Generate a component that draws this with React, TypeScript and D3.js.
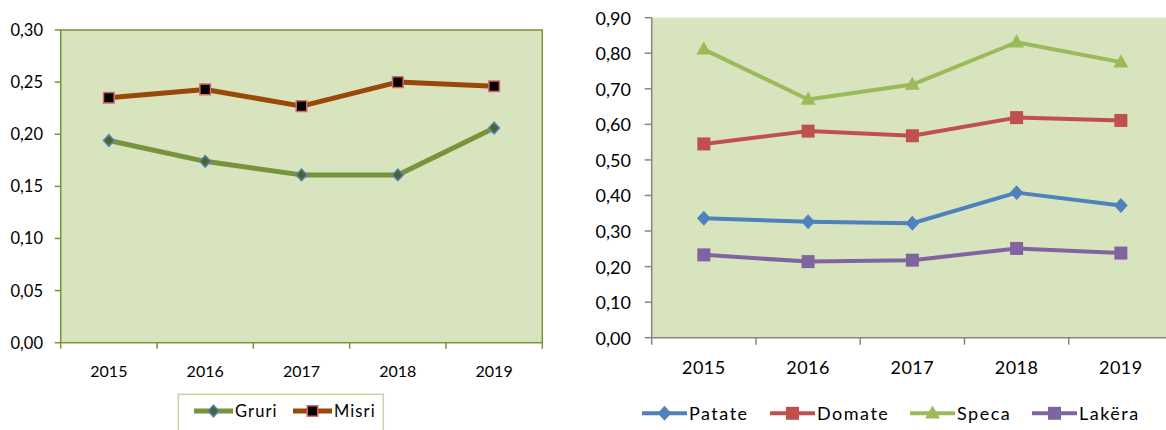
import React from "react";
import * as d3 from "d3";

const years = ["2015", "2016", "2017", "2018", "2019"];

// Left chart
const gruri = [0.194, 0.174, 0.161, 0.161, 0.206];
const misri = [0.235, 0.243, 0.227, 0.25, 0.246];
const leftTicks = [0, 0.05, 0.1, 0.15, 0.2, 0.25, 0.3];

// Right chart
const patate = [0.336, 0.326, 0.322, 0.408, 0.372];
const domate = [0.545, 0.581, 0.568, 0.619, 0.611];
const speca = [0.811, 0.67, 0.712, 0.831, 0.775];
const lakera = [0.233, 0.214, 0.218, 0.251, 0.238];
const rightTicks = [0, 0.1, 0.2, 0.3, 0.4, 0.5, 0.6, 0.7, 0.8, 0.9];

const FONT = "Lato, 'Open Sans', sans-serif";
const fmt = (v: number) => v.toFixed(2).replace(".", ",");

type Marker = "diamond" | "square" | "triangle";

function markerPath(kind: Marker, cx: number, cy: number, r: number): string {
  const p = d3.path();
  if (kind === "diamond") {
    p.moveTo(cx, cy - r * 1.1);
    p.lineTo(cx + r, cy);
    p.lineTo(cx, cy + r * 1.1);
    p.lineTo(cx - r, cy);
    p.closePath();
  } else if (kind === "square") {
    p.rect(cx - r, cy - r, 2 * r, 2 * r);
  } else {
    const h = r * 1.75;
    p.moveTo(cx, cy - h * 0.6);
    p.lineTo(cx + r, cy + h * 0.4);
    p.lineTo(cx - r, cy + h * 0.4);
    p.closePath();
  }
  return p.toString();
}

export default function App() {
  // Left scales
  const xL = d3.scaleBand().domain(years).range([60.7, 542.3]);
  const yL = d3.scaleLinear().domain([0, 0.3]).range([342.7, 30]);
  // Right scales
  const xR = d3.scaleBand().domain(years).range([651.7, 1173]);
  const yR = d3.scaleLinear().domain([0, 0.9]).range([337.7, 17.7]);

  const lineL = d3
    .line<number>()
    .x((_, i) => (xL(years[i]) as number) + xL.bandwidth() / 2)
    .y((d) => yL(d));
  const lineR = d3
    .line<number>()
    .x((_, i) => (xR(years[i]) as number) + xR.bandwidth() / 2)
    .y((d) => yR(d));

  const leftSeries = [
    { name: "Gruri", data: gruri, color: "#77933C", width: 5, marker: "diamond" as Marker, r: 5.3, fill: "#4F6228", stroke: "#4F81BD", sw: 1.5 },
    { name: "Misri", data: misri, color: "#984807", width: 5, marker: "square" as Marker, r: 5.3, fill: "#000000", stroke: "#D9696A", sw: 1.5 },
  ];
  const rightSeries = [
    { name: "Patate", data: patate, color: "#4F81BD", marker: "diamond" as Marker, r: 6.8 },
    { name: "Domate", data: domate, color: "#C0504D", marker: "square" as Marker, r: 6.5 },
    { name: "Speca", data: speca, color: "#9BBB59", marker: "triangle" as Marker, r: 7.5 },
    { name: "Lakëra", data: lakera, color: "#8064A2", marker: "square" as Marker, r: 6.5 },
  ];

  const leftAxisColor = "#77933C";
  const rightAxisColor = "#868686";
  const plotFill = "#D7E4BD";

  const [l0, l1] = xL.range();
  const [r0, r1] = xR.range();
  const leftBounds = [...years.map((y) => xL(y) as number), l1];
  const rightBounds = [...years.map((y) => xR(y) as number), r1];

  const rightLegendX = [642, 770, 910, 1032];
  const leftLegendX = [194, 293];

  return (
    <svg
      width={1166}
      height={430}
      style={{ position: "absolute", left: 0, top: 0, fontFamily: FONT }}
    >
      <rect x={0} y={0} width={1166} height={430} fill="#ffffff" />

      {/* LEFT CHART */}
      <rect x={l0} y={yL(0.3)} width={l1 - l0} height={yL(0) - yL(0.3)} fill={plotFill} stroke={leftAxisColor} strokeWidth={1.5} />
      {leftTicks.map((t) => (
        <g key={"lt" + t}>
          <line x1={l0 - 6} x2={l0} y1={yL(t)} y2={yL(t)} stroke={leftAxisColor} strokeWidth={1.5} />
          <text x={43} y={yL(t)} textAnchor="end" dominantBaseline="central" fontSize={16.5} fill="#000">
            {fmt(t)}
          </text>
        </g>
      ))}
      {leftBounds.map((b, i) => (
        <line key={"lb" + i} x1={b} x2={b} y1={yL(0)} y2={yL(0) + 6} stroke={leftAxisColor} strokeWidth={1.5} />
      ))}
      {years.map((y) => (
        <text key={"lx" + y} x={(xL(y) as number) + xL.bandwidth() / 2} y={370.7} textAnchor="middle" dominantBaseline="central" fontSize={16} fill="#000">
          {y}
        </text>
      ))}
      {leftSeries.map((s) => (
        <g key={s.name}>
          <path d={lineL(s.data) as string} fill="none" stroke={s.color} strokeWidth={s.width} strokeLinejoin="round" />
          {s.data.map((v, i) => (
            <path
              key={i}
              d={markerPath(s.marker, (xL(years[i]) as number) + xL.bandwidth() / 2, yL(v), s.r)}
              fill={s.fill}
              stroke={s.stroke}
              strokeWidth={s.sw}
            />
          ))}
        </g>
      ))}
      {/* left legend */}
      <rect x={178.3} y={394.3} width={205} height={40} fill="#ffffff" stroke="#C3D69B" strokeWidth={1.5} />
      {leftSeries.map((s, i) => {
        const x = leftLegendX[i];
        const cy = 411;
        return (
          <g key={"ll" + s.name}>
            <line x1={x} x2={x + 39} y1={cy} y2={cy} stroke={s.color} strokeWidth={s.width} />
            <path d={markerPath(s.marker, x + 19.5, cy, s.r)} fill={s.fill} stroke={s.stroke} strokeWidth={s.sw} />
            <text x={x + 41} y={cy} dominantBaseline="central" fontSize={16.5} letterSpacing={1.1} fill="#000">
              {s.name}
            </text>
          </g>
        );
      })}

      {/* RIGHT CHART */}
      <rect x={r0} y={yR(0.9)} width={r1 - r0} height={yR(0) - yR(0.9)} fill={plotFill} />
      <line x1={r0} x2={r0} y1={yR(0.9)} y2={yR(0)} stroke={rightAxisColor} strokeWidth={1.5} />
      <line x1={r0} x2={r1} y1={yR(0)} y2={yR(0)} stroke={rightAxisColor} strokeWidth={1.5} />
      {rightTicks.map((t) => (
        <g key={"rt" + t}>
          <line x1={r0 - 7} x2={r0} y1={yR(t)} y2={yR(t)} stroke={rightAxisColor} strokeWidth={1.5} />
          <text x={631} y={yR(t)} textAnchor="end" dominantBaseline="central" fontSize={18} fill="#000">
            {fmt(t)}
          </text>
        </g>
      ))}
      {rightBounds.map((b, i) => (
        <line key={"rb" + i} x1={b} x2={b} y1={yR(0)} y2={yR(0) + 7} stroke={rightAxisColor} strokeWidth={1.5} />
      ))}
      {years.map((y) => (
        <text key={"rx" + y} x={(xR(y) as number) + xR.bandwidth() / 2} y={367.3} textAnchor="middle" dominantBaseline="central" fontSize={18} letterSpacing={0.5} fill="#000">
          {y}
        </text>
      ))}
      {rightSeries.map((s) => (
        <g key={s.name}>
          <path d={lineR(s.data) as string} fill="none" stroke={s.color} strokeWidth={4} strokeLinejoin="round" />
          {s.data.map((v, i) => (
            <path
              key={i}
              d={markerPath(s.marker, (xR(years[i]) as number) + xR.bandwidth() / 2, yR(v), s.r)}
              fill={s.color}
            />
          ))}
        </g>
      ))}
      {/* right legend */}
      {rightSeries.map((s, i) => {
        const x = rightLegendX[i];
        const cy = 413.3;
        return (
          <g key={"rl" + s.name}>
            <line x1={x} x2={x + 45} y1={cy} y2={cy} stroke={s.color} strokeWidth={4} />
            <path d={markerPath(s.marker, x + 22.5, cy, s.r)} fill={s.color} />
            <text x={x + 47} y={cy} dominantBaseline="central" fontSize={18} letterSpacing={1.5} fill="#000">
              {s.name}
            </text>
          </g>
        );
      })}
    </svg>
  );
}
